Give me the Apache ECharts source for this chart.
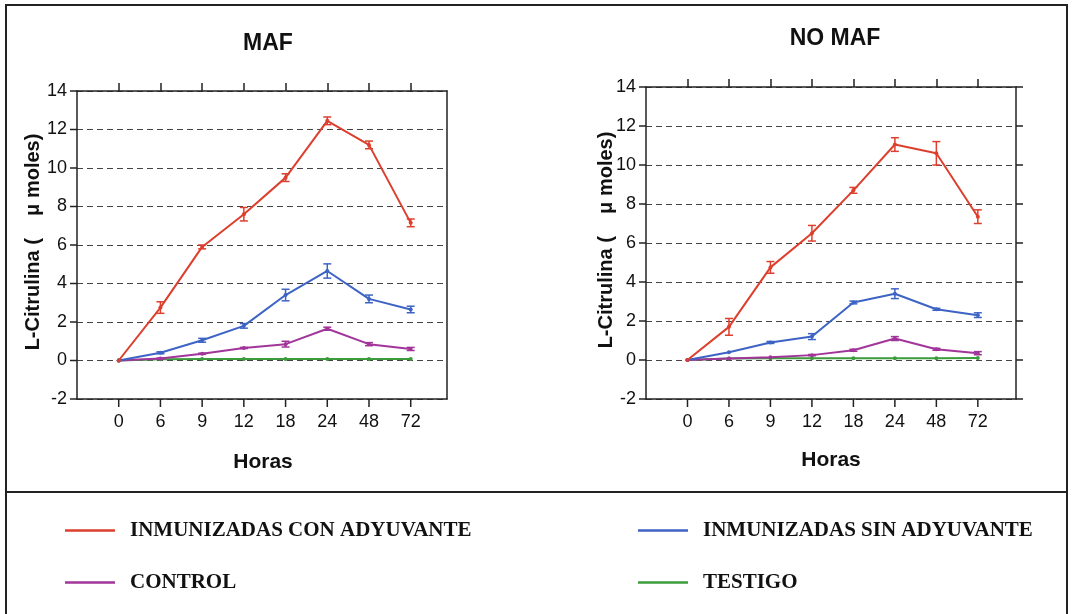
<!DOCTYPE html>
<html>
<head>
<meta charset="utf-8">
<script src="https://cdn.jsdelivr.net/npm/echarts@6/dist/echarts.min.js"></script>
<style>html,body{margin:0;padding:0;background:#fff;}#c{width:1073px;height:614px;}</style>
</head>
<body>
<div id="c"></div>
<script>
// Categories (hours)
const hours = ['0', '6', '9', '12', '18', '24', '48', '72'];
const yTicks = [-2, 0, 2, 4, 6, 8, 10, 12, 14];
const seriesNames = ['INMUNIZADAS CON ADYUVANTE', 'INMUNIZADAS SIN ADYUVANTE', 'CONTROL', 'TESTIGO'];
const seriesColors = ['#dc3f2e', '#3d63c4', '#a1359a', '#3c9c3c'];

// MAF panel values and error (±)
const mafCon      = [0, 2.75, 5.9, 7.6, 9.5, 12.45, 11.2, 7.15];
const mafConErr   = [0, 0.3, 0.1, 0.35, 0.2, 0.2, 0.2, 0.2];
const mafSin      = [0, 0.4, 1.05, 1.8, 3.4, 4.65, 3.2, 2.65];
const mafSinErr   = [0, 0.05, 0.1, 0.12, 0.3, 0.37, 0.2, 0.17];
const mafCtrl     = [0, 0.1, 0.35, 0.65, 0.85, 1.65, 0.85, 0.6];
const mafCtrlErr  = [0, 0.03, 0.03, 0.03, 0.15, 0.08, 0.08, 0.08];
const mafTest     = [0, 0.07, 0.08, 0.08, 0.08, 0.08, 0.08, 0.08];
const mafTestErr  = [0, 0.02, 0.02, 0.02, 0.02, 0.02, 0.02, 0.02];

// NO MAF panel values and error (±)
const noCon       = [0, 1.7, 4.75, 6.5, 8.7, 11.05, 10.6, 7.35];
const noConErr    = [0, 0.43, 0.3, 0.4, 0.15, 0.35, 0.6, 0.35];
const noSin       = [0, 0.4, 0.9, 1.2, 2.95, 3.4, 2.6, 2.3];
const noSinErr    = [0, 0.02, 0.05, 0.15, 0.07, 0.25, 0.05, 0.12];
const noCtrl      = [0, 0.08, 0.14, 0.25, 0.5, 1.1, 0.55, 0.35];
const noCtrlErr   = [0, 0.02, 0.02, 0.03, 0.05, 0.1, 0.05, 0.08];
const noTest      = [0, 0.08, 0.09, 0.09, 0.09, 0.09, 0.09, 0.1];
const noTestErr   = [0, 0.02, 0.02, 0.02, 0.02, 0.02, 0.02, 0.02];

const panels = [
  { title: 'MAF', vals: [mafCon, mafSin, mafCtrl, mafTest], errs: [mafConErr, mafSinErr, mafCtrlErr, mafTestErr] },
  { title: 'NO MAF', vals: [noCon, noSin, noCtrl, noTest], errs: [noConErr, noSinErr, noCtrlErr, noTestErr] }
];

const idx = hours.map((h, i) => i);
const chart = echarts.init(document.getElementById('c'), null, { renderer: 'canvas' });

const grids = [
  { left: 77, top: 91, width: 370, height: 308 },
  { left: 646, top: 87, width: 370, height: 312 }
];
const xMin = -1;
const xMax = [7.87, 7.92];
const yMin = -2, yMax = 14;
const axisColor = '#222';
const sansFont = '"Liberation Sans", Arial, sans-serif';
const isCat = v => Math.abs(v - Math.round(v)) < 1e-6 && v >= 0 && v <= 7;
const lineSt = { color: axisColor, width: 1.5 };

const xAxes = [], yAxes = [], series = [];
panels.forEach((p, g) => {
  xAxes.push({
    gridIndex: g, type: 'value', min: xMin, max: xMax[g], interval: 1, position: 'bottom',
    axisLine: { show: true, onZero: false, lineStyle: lineSt },
    axisTick: { show: false },
    axisLabel: { show: true, margin: 14, color: '#111', fontSize: 18, fontFamily: sansFont,
      showMinLabel: false, showMaxLabel: false,
      formatter: v => isCat(v) ? hours[Math.round(v)] : '' },
    splitLine: { show: false }
  });
  xAxes.push({
    gridIndex: g, type: 'value', min: xMin, max: xMax[g], position: 'top',
    axisLine: { show: true, onZero: false, lineStyle: lineSt },
    axisTick: { show: true, length: 8, customValues: idx, lineStyle: lineSt },
    axisLabel: { show: false },
    splitLine: { show: false }
  });
  yAxes.push({
    gridIndex: g, type: 'value', min: yMin, max: yMax, interval: 2, position: 'left',
    axisLine: { show: true, onZero: false, lineStyle: lineSt },
    axisTick: { show: false },
    axisLabel: { show: true, margin: 10, color: '#111', fontSize: 18, fontFamily: sansFont },
    splitLine: { show: true, lineStyle: { color: '#444', type: [6, 4], width: 1.2 } }
  });
  yAxes.push({
    gridIndex: g, type: 'value', min: yMin, max: yMax, interval: 2, position: 'right',
    axisLine: { show: true, onZero: false, lineStyle: lineSt },
    axisTick: { show: g === 1, length: 7, lineStyle: lineSt },
    axisLabel: { show: false },
    splitLine: { show: false }
  });

  p.vals.forEach((vals, s) => {
    series.push({
      name: seriesNames[s], type: 'line', xAxisIndex: g * 2, yAxisIndex: g * 2,
      data: vals.map((v, i) => [i, v]),
      symbol: 'circle', symbolSize: 4, z: 3 + (3 - s),
      itemStyle: { color: seriesColors[s] },
      lineStyle: { color: seriesColors[s], width: 2 },
      emphasis: { disabled: true }
    });
  });
  p.vals.forEach((vals, s) => {
    series.push({
      name: seriesNames[s], type: 'custom', xAxisIndex: g * 2, yAxisIndex: g * 2,
      data: vals.map((v, i) => [i, v - p.errs[s][i], v + p.errs[s][i]]),
      encode: { x: 0, y: [1, 2] },
      itemStyle: { color: seriesColors[s] }, z: 4,
      renderItem: function (params, api) {
        const x = api.value(0);
        const lo = api.coord([x, api.value(1)]);
        const hi = api.coord([x, api.value(2)]);
        if (Math.abs(hi[1] - lo[1]) < 1) return null;
        const w = 4;
        const st = { stroke: seriesColors[s], lineWidth: 1.5 };
        return {
          type: 'group', children: [
            { type: 'line', shape: { x1: lo[0], y1: lo[1], x2: hi[0], y2: hi[1] }, style: st },
            { type: 'line', shape: { x1: lo[0] - w, y1: lo[1], x2: lo[0] + w, y2: lo[1] }, style: st },
            { type: 'line', shape: { x1: hi[0] - w, y1: hi[1], x2: hi[0] + w, y2: hi[1] }, style: st }
          ]
        };
      }
    });
  });
});

const legendText = { color: '#111', fontFamily: '"Liberation Serif", "Times New Roman", serif', fontWeight: 'bold', fontSize: 21, padding: [0, 0, 0, 10] };
const legendPos = [[65, 520], [638, 520], [65, 572], [638, 572]];
const legends = seriesNames.map((n, i) => ({
  left: legendPos[i][0], top: legendPos[i][1], data: [n], icon: 'rect', itemWidth: 50, itemHeight: 2.5,
  textStyle: legendText, selectedMode: false, padding: 0
}));

const baseGraphic = [
  { type: 'rect', shape: { x: 6, y: 5, width: 1061, height: 640 }, style: { fill: 'none', stroke: '#222', lineWidth: 2 }, silent: true },
  { type: 'line', shape: { x1: 6, y1: 492, x2: 1067, y2: 492 }, style: { stroke: '#222', lineWidth: 2 }, silent: true },
  { type: 'text', x: 263, y: 462, style: { text: 'Horas', fill: '#111', font: 'bold 21px "Liberation Sans", Arial, sans-serif', align: 'center', verticalAlign: 'middle' } },
  { type: 'text', x: 831, y: 460, style: { text: 'Horas', fill: '#111', font: 'bold 21px "Liberation Sans", Arial, sans-serif', align: 'center', verticalAlign: 'middle' } },
  { type: 'text', x: 33, y: 242, rotation: Math.PI / 2, style: { text: 'L-Citrulina (    \u03bc moles)', fill: '#111', font: 'bold 20px "Liberation Sans", Arial, sans-serif', align: 'center', verticalAlign: 'middle' } },
  { type: 'text', x: 606, y: 240, rotation: Math.PI / 2, style: { text: 'L-Citrulina (    \u03bc moles)', fill: '#111', font: 'bold 20px "Liberation Sans", Arial, sans-serif', align: 'center', verticalAlign: 'middle' } }
];

chart.setOption({
  animation: false,
  backgroundColor: '#fff',
  title: [
    { text: 'MAF', left: 263, top: 27, textAlign: 'center', textStyle: { fontSize: 23, fontWeight: 'bold', color: '#111', fontFamily: sansFont } },
    { text: 'NO MAF', left: 830, top: 22, textAlign: 'center', textStyle: { fontSize: 23, fontWeight: 'bold', color: '#111', fontFamily: sansFont } }
  ],
  grid: grids,
  xAxis: xAxes,
  yAxis: yAxes,
  legend: legends,
  series: series,
  graphic: baseGraphic
});

// Bottom and left axis ticks: pixel positions from the axes' scales
function toPixel(g, x, y) {
  let pt = null;
  try { pt = chart.convertToPixel({ xAxisIndex: g * 2, yAxisIndex: g * 2 }, [x, y]); } catch (e) { pt = null; }
  if (!pt || !isFinite(pt[0]) || !isFinite(pt[1])) {
    const r = grids[g];
    pt = [r.left + (x - xMin) / (xMax[g] - xMin) * r.width,
          r.top + r.height - (y - yMin) / (yMax - yMin) * r.height];
  }
  return pt;
}
const tickGraphic = [];
panels.forEach((p, g) => {
  idx.forEach(v => {
    const pt = toPixel(g, v, yMin);
    tickGraphic.push({ type: 'line', silent: true, z: 100, zlevel: 1, shape: { x1: pt[0], y1: pt[1], x2: pt[0], y2: pt[1] + 8 }, style: { stroke: axisColor, lineWidth: 1.5 } });
  });
  yTicks.forEach(v => {
    const pt = toPixel(g, xMin, v);
    tickGraphic.push({ type: 'line', silent: true, z: 100, zlevel: 1, shape: { x1: pt[0], y1: pt[1], x2: pt[0] - 7, y2: pt[1] }, style: { stroke: axisColor, lineWidth: 1.5 } });
  });
});
chart.setOption({ graphic: baseGraphic.concat(tickGraphic) });
</script>
</body>
</html>
